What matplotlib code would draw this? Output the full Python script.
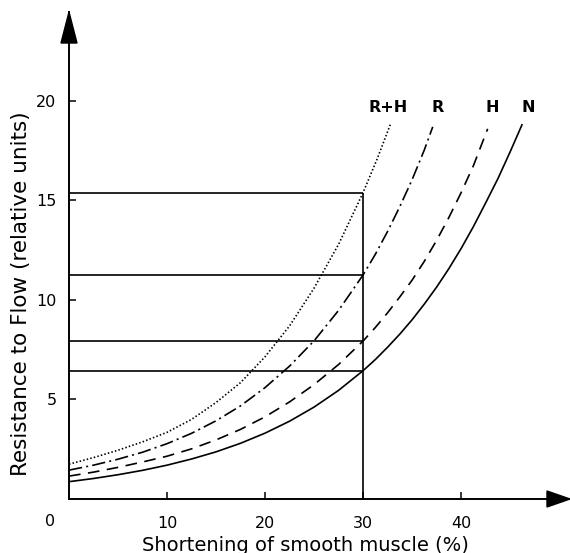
import matplotlib
matplotlib.use('Agg')
import matplotlib.pyplot as plt

# --- data: resistance vs. smooth muscle shortening ---
n_x = [0, 2.5, 5, 7.5, 10, 12.5, 15, 17.5, 20, 22.5, 25, 27.5, 30,
       31.25, 32.5, 33.75, 35, 36.25, 37.5, 38.75, 40, 41.25, 42.5, 43.75, 45, 46.2]
n_y = [0.87, 1.03, 1.22, 1.44, 1.70, 2.01, 2.37, 2.80, 3.31, 3.91, 4.62, 5.46, 6.45,
       7.01, 7.63, 8.29, 9.01, 9.80, 10.65, 11.58, 12.59, 13.69, 14.88, 16.10, 17.45, 18.8]

h_x = [0, 2.5, 5, 7.5, 10, 12.5, 15, 17.5, 20, 22.5, 25, 27.5, 30,
       31.25, 32.5, 33.75, 35, 36.25, 37.5, 38.75, 40, 41.25, 42.7]
h_y = [1.15, 1.35, 1.59, 1.86, 2.15, 2.52, 2.97, 3.50, 4.13, 4.88, 5.75, 6.76, 7.94,
       8.62, 9.36, 10.16, 11.00, 11.95, 13.00, 14.15, 15.40, 16.75, 18.6]

r_x = [0, 2.5, 5, 7.5, 10, 12.5, 15, 17.5, 20, 22.5, 25, 27.5, 30,
       31.25, 32.5, 33.75, 35, 36.25, 37.1]
r_y = [1.45, 1.70, 2.00, 2.35, 2.78, 3.30, 3.93, 4.68, 5.60, 6.68, 7.95, 9.48, 11.26,
       12.30, 13.45, 14.70, 16.05, 17.55, 18.7]

rh_x = [0, 2.5, 5, 7.5, 10, 12.5, 15, 17.5, 20, 22.5, 25, 27.5, 30, 31.4, 32.8]
rh_y = [1.75, 2.08, 2.45, 2.87, 3.35, 4.00, 4.85, 5.85, 7.15, 8.70, 10.60, 12.80, 15.40,
        17.05, 18.85]

curve_names = ['N', 'H', 'R', 'R+H']
label_x = [46.8, 43.2, 37.55, 32.6]
label_y = 19.65
ref_shortening = 30          # the vertical reference line
x_ticks = [10, 20, 30, 40]
y_ticks = [5, 10, 15, 20]

plt.rcParams['font.family'] = ['DejaVu Sans']

fig = plt.figure(figsize=(5.7, 5.53), dpi=100)
W, H = 570., 553.
ax = fig.add_axes([69/W, (H-499)/H, 501/W, 487/H])
ax.set_xlim(0, 51.1)
ax.set_ylim(0, 24.47)

lw = 1.2
ax.plot(n_x, n_y, color='k', lw=lw, linestyle='-')
ax.plot(h_x, h_y, color='k', lw=lw, linestyle=(0, (7, 4.5)))
ax.plot(r_x, r_y, color='k', lw=lw, linestyle=(0, (8, 2.5, 1.2, 2.5)))
ax.plot(rh_x, rh_y, color='k', lw=lw, linestyle=(0, (0.9, 1.3)))

# levels reached by each curve at 30 % shortening
levels = [n_y[n_x.index(ref_shortening)], h_y[h_x.index(ref_shortening)],
          r_y[r_x.index(ref_shortening)], rh_y[rh_x.index(ref_shortening)]]
ax.hlines(levels, 0, ref_shortening, color='k', lw=lw)
ax.vlines(ref_shortening, 0, max(levels), color='k', lw=lw)

for name, lx in zip(curve_names, label_x):
    ax.text(lx, label_y, name, ha='center', va='center', fontsize=11.5, fontweight='bold')

# axes with arrow heads
for side in ['top', 'right']:
    ax.spines[side].set_visible(False)
for side in ['left', 'bottom']:
    ax.spines[side].set_linewidth(1.4)
ax.fill([-8/501, 8/501, 0], [1-31/487, 1-31/487, 1], transform=ax.transAxes,
        color='k', clip_on=False, zorder=5)
ax.fill([1-23/501, 1-23/501, 1], [-8/487, 8/487, 0], transform=ax.transAxes,
        color='k', clip_on=False, zorder=5)

ax.set_xticks(x_ticks)
ax.set_yticks(y_ticks)
ax.tick_params(direction='in', length=5, width=1.1, labelsize=11.5, pad=12)
ax.tick_params(axis='y', pad=9)
ax.text(-1.9, -1.15, '0', ha='center', va='center', fontsize=11.5, clip_on=False)

ax.set_xlabel('Shortening of smooth muscle (%)', fontsize=14)
ax.set_ylabel('Resistance to Flow (relative units)', fontsize=15.5)
ax.xaxis.set_label_coords(0.471, -0.075)
ax.yaxis.set_label_coords(-0.076, 0.421)

fig.savefig('out.png', dpi=100)
